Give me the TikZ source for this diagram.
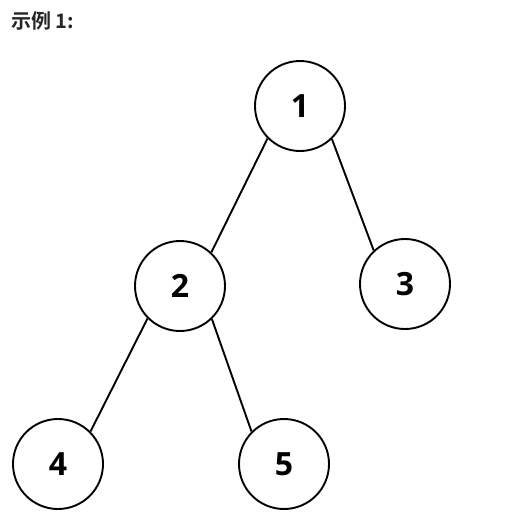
\documentclass[tikz,border=0pt]{standalone}
\usepackage{fontspec}
\newfontfamily\cjk{Noto Sans CJK SC}[BoldFont={Noto Sans CJK SC Bold}]
\newfontfamily\numfont{Open Sans}[BoldFont={Open Sans Bold}]
\begin{document}
\begin{tikzpicture}[x=1pt,y=-1pt,
  tn/.style={circle,draw=black,line width=1.9pt,minimum size=90pt,inner sep=0pt,
    font=\numfont\bfseries\fontsize{32}{32}\selectfont},
  edge/.style={draw=black,line width=1.9pt}]
\useasboundingbox[fill=white] (0,0) rectangle (518,527);
\node[anchor=base west,font=\cjk\bfseries\fontsize{20}{20}\selectfont,text=black!85,inner sep=0pt] (title) at (11,29) {示例 1:};
\node[tn] (n1) at (300,106) {1};
\node[tn] (n2) at (180,286) {2};
\node[tn] (n3) at (405,284) {3};
\node[tn] (n4) at (58,464) {4};
\node[tn] (n5) at (284,464) {5};
\draw[edge] (n1.-135) -- (n2.47);
\draw[edge] (n1.-46) -- (n3.133);
\draw[edge] (n2.-135) -- (n4.45);
\draw[edge] (n2.-46) -- (n5.135);
\end{tikzpicture}
\end{document}
